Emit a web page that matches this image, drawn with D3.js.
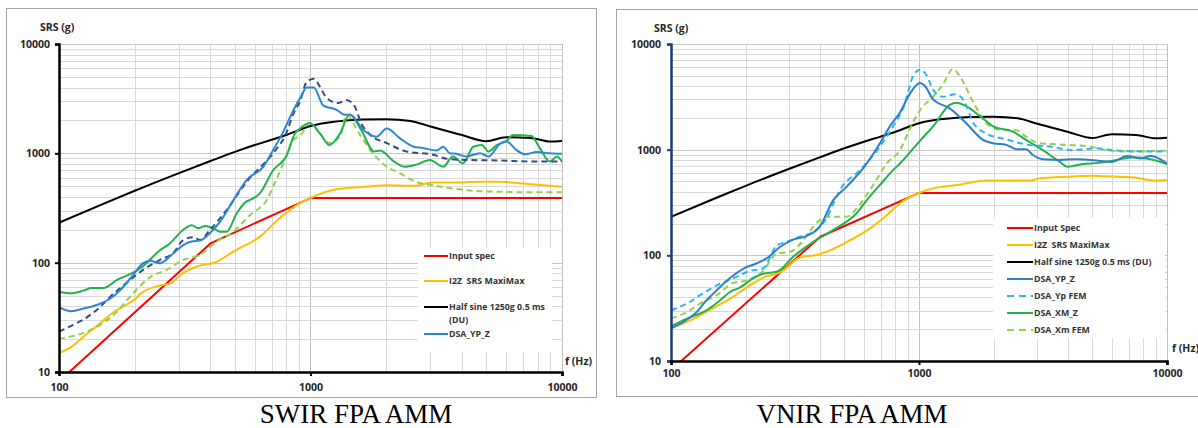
<!DOCTYPE html>
<html>
<head>
<meta charset="utf-8">
<script src="https://cdn.jsdelivr.net/npm/d3@7"></script>
<style>
  body { margin: 0; background: #fff; }
  text { font-family: "Open Sans", "Liberation Sans", sans-serif; white-space: pre; }
</style>
</head>
<body>
<svg id="chart" width="1198" height="428"></svg>
<script>
// tick labels
var xTicks = [100, 1000, 10000];
var yTicks = [10, 100, 1000, 10000];

// ---- SWIR FPA AMM (left) ----
var swirInputSpec = [[100, 8.2], [400, 150], [1000, 390], [10000, 390]];
var swirMaxiMax = [[100, 15], [112, 17], [125, 21], [146, 28], [164, 35], [197, 45], [216, 54], [252, 62], [280, 65], [303, 77], [352, 92], [424, 102], [493, 126], [629, 173], [757, 257], [909, 350], [1000, 390], [1060, 415], [1230, 463], [1670, 495], [2010, 510], [2570, 505], [3080, 540], [3590, 540], [4880, 550], [5680, 550], [6620, 535], [10000, 495]];
var halfSine = [[100, 232], [150, 345], [200, 455], [300, 660], [400, 850], [500, 1030], [600, 1190], [700, 1330], [800, 1470], [1000, 1780], [1250, 1950], [1600, 2040], [2000, 2050], [2500, 1980], [3000, 1760], [4000, 1470], [5000, 1290], [6000, 1400], [7500, 1380], [9000, 1280], [10000, 1300]];
var swirYpZ = [[100, 39], [112, 36], [125, 38], [141, 41], [160, 47], [175, 56], [197, 77], [216, 99], [230, 104], [252, 99], [285, 122], [312, 145], [337, 156], [364, 159], [398, 186], [437, 237], [494, 374], [557, 570], [650, 755], [710, 1070], [780, 1580], [855, 2480], [909, 3200], [967, 4000], [1030, 4000], [1125, 2730], [1270, 2500], [1370, 2250], [1440, 2250], [1620, 1640], [1830, 1420], [2010, 1690], [2270, 1370], [2570, 1150], [2800, 1120], [3170, 1060], [3370, 1150], [3580, 1000], [3800, 990], [4170, 935], [4440, 970], [4720, 1000], [5100, 935], [5680, 1230], [6000, 1290], [6600, 1070], [7130, 980], [7950, 1030], [8950, 1000], [10000, 990]];
var swirYpFem = [[100, 23.4], [114, 27], [129, 31.6], [146, 39.6], [160, 48.9], [186, 65.6], [216, 86], [252, 106], [285, 123], [312, 161], [342, 171], [364, 161], [398, 199], [464, 303], [565, 570], [610, 690], [710, 1000], [801, 1530], [855, 2300], [909, 3000], [967, 4520], [1030, 4800], [1090, 4070], [1160, 3200], [1290, 2880], [1390, 3080], [1500, 2680], [1590, 1890], [1730, 1470], [2010, 1240], [2410, 1040], [3080, 970], [3490, 890], [4170, 870], [5680, 860], [7660, 840], [10000, 840]];
var swirXmZ = [[100, 54], [112, 52.5], [125, 55.5], [135, 58.5], [150, 58.5], [170, 69.5], [197, 81], [216, 93], [252, 130], [276, 150], [312, 200], [337, 220], [358, 206], [381, 216], [411, 206], [437, 192], [464, 192], [509, 283], [557, 364], [575, 375], [629, 430], [710, 700], [801, 940], [867, 1520], [909, 1690], [994, 1890], [1090, 1520], [1190, 1190], [1310, 1520], [1430, 2270], [1590, 1640], [1790, 1040], [1890, 1060], [2150, 840], [2370, 755], [2620, 785], [2980, 870], [3370, 755], [3680, 935], [4040, 810], [4440, 1150], [4800, 1190], [5100, 1040], [5500, 1190], [6000, 1290], [6390, 1470], [7560, 1440], [8150, 1120], [8950, 840], [9540, 935], [10000, 840]];
var swirXmFem = [[100, 20], [114, 21.4], [129, 23.4], [146, 27], [170, 35.6], [197, 52.5], [230, 73.5], [268, 86], [312, 106], [364, 118], [424, 156], [494, 192], [575, 273], [670, 375], [730, 570], [801, 935], [855, 1330], [909, 1450], [994, 1890], [1090, 1520], [1190, 1240], [1310, 1420], [1390, 2250], [1560, 1520], [1770, 1000], [2010, 755], [2270, 655], [2620, 550], [3080, 510], [3580, 480], [4440, 455], [5680, 445], [7670, 440], [10000, 440]];

// ---- VNIR FPA AMM (right) ----
var vnirInputSpec = [[100, 8.2], [400, 150], [1000, 390], [10000, 390]];
var vnirMaxiMax = [[100, 21], [112, 22.6], [131, 27.1], [153, 33], [178, 40.5], [208, 52], [243, 63.5], [275, 68.5], [331, 95.5], [387, 101], [424, 108], [527, 139], [635, 180], [741, 240], [838, 310], [1010, 393], [1140, 430], [1420, 463], [1870, 510], [2800, 510], [3060, 535], [3950, 555], [5050, 565], [5690, 560], [7330, 545], [9100, 510], [10000, 515]];
var vnirYpZ = [[100, 20.3], [112, 23.4], [127, 29.1], [139, 37.6], [153, 46.8], [173, 61], [196, 75], [221, 83.7], [243, 93.5], [275, 120], [311, 141], [351, 152], [398, 187], [451, 333], [510, 445], [595, 665], [696, 1150], [763, 1660], [838, 2250], [922, 3430], [1010, 4270], [1060, 3960], [1140, 2990], [1330, 2460], [1550, 1780], [1810, 1240], [1990, 1150], [2250, 1110], [2470, 1010], [2700, 1010], [2880, 890], [3160, 810], [3690, 800], [4300, 810], [5300, 785], [6000, 765], [6900, 870], [7830, 825], [8600, 870], [10000, 740]];
var vnirYpFem = [[100, 30.2], [116, 35], [131, 42], [153, 52], [178, 60.5], [208, 71], [235, 75], [267, 124], [293, 134], [331, 150], [375, 167], [424, 225], [458, 333], [480, 414], [578, 640], [696, 1070], [786, 1660], [868, 2560], [952, 5110], [1010, 5700], [1070, 5110], [1140, 3700], [1250, 3170], [1400, 3340], [1510, 2960], [1660, 1780], [1870, 1420], [2250, 1250], [2700, 1120], [3370, 1070], [4160, 990], [4710, 1010], [5200, 1030], [6260, 980], [8600, 960], [10000, 960]];
var vnirXmZ = [[100, 21.3], [116, 25.2], [139, 30.2], [158, 37.6], [173, 45], [190, 49.7], [214, 60.5], [235, 67], [267, 69.8], [311, 97], [375, 134], [451, 174], [560, 250], [616, 333], [696, 464], [786, 640], [838, 740], [889, 860], [1010, 1220], [1140, 1660], [1330, 2650], [1420, 2780], [1550, 2580], [1770, 2060], [1990, 1660], [2390, 1480], [2700, 1240], [3160, 990], [3690, 770], [3980, 690], [4590, 730], [5300, 750], [6260, 800], [7330, 850], [8600, 810], [10000, 730]];
var vnirXmFem = [[100, 25.2], [116, 29.1], [131, 35], [153, 42], [178, 54.9], [202, 58], [235, 71], [267, 104], [302, 108], [342, 139], [375, 187], [424, 232], [510, 232], [568, 288], [595, 333], [674, 520], [741, 740], [838, 990], [922, 1600], [1010, 2370], [1140, 3170], [1250, 4150], [1370, 5800], [1460, 4950], [1660, 2770], [1870, 1780], [2110, 1550], [2470, 1530], [2700, 1330], [3060, 1150], [3950, 1110], [4890, 1070], [5690, 990], [7330, 960], [10000, 980]];

var svg = d3.select("#chart");

function drawPanel(cfg) {
  var x = d3.scaleLog().domain([100, 10000]).range([cfg.x0, cfg.x1]);
  var y = d3.scaleLog().domain([10, 10000]).range([cfg.y1, cfg.y0]);
  var g = svg.append("g");

  // outer frame
  g.append("rect")
    .attr("x", cfg.frame[0] + 0.5).attr("y", cfg.frame[1] + 0.5)
    .attr("width", cfg.frame[2]).attr("height", cfg.frame[3])
    .attr("fill", "none").attr("stroke", "#a6a6a6");

  // log grid
  var minor = [];
  [10, 100, 1000].forEach(function(d) {
    for (var k = 1; k <= 9; k++) minor.push(k * d);
  });
  minor.push(10000);
  var xGrid = minor.filter(function(v) { return v >= 100; });
  g.selectAll(".vg").data(xGrid).enter().append("line")
    .attr("x1", function(d) { return Math.round(x(d)) + 0.5; })
    .attr("x2", function(d) { return Math.round(x(d)) + 0.5; })
    .attr("y1", cfg.y0).attr("y2", cfg.y1)
    .attr("stroke", function(d) { return xTicks.indexOf(d) >= 0 ? "#bfbfbf" : "#d9d9d9"; })
    .attr("stroke-width", 1);
  g.selectAll(".hg").data(minor).enter().append("line")
    .attr("y1", function(d) { return Math.round(y(d)) + 0.5; })
    .attr("y2", function(d) { return Math.round(y(d)) + 0.5; })
    .attr("x1", cfg.x0).attr("x2", cfg.x1)
    .attr("stroke", function(d) { return yTicks.indexOf(d) >= 0 ? "#c8c8c8" : "#d9d9d9"; })
    .attr("stroke-width", 1);

  // legend box hides grid behind it
  var lg = cfg.legend;
  g.append("rect")
    .attr("x", lg.x).attr("y", lg.y).attr("width", lg.w).attr("height", lg.h)
    .attr("fill", "#fff");

  // clip
  var clipId = "clip" + cfg.id;
  g.append("clipPath").attr("id", clipId).append("rect")
    .attr("x", cfg.x0).attr("y", cfg.y0)
    .attr("width", cfg.x1 - cfg.x0).attr("height", cfg.y1 - cfg.y0);

  var lines = g.append("g").attr("clip-path", "url(#" + clipId + ")");
  cfg.series.forEach(function(s) {
    // spec lines are straight segments, measured curves are smoothed
    var line = d3.line()
      .x(function(d) { return x(d[0]); })
      .y(function(d) { return y(d[1]); })
      .curve(s.straight ? d3.curveLinear : d3.curveMonotoneX);
    lines.append("path")
      .datum(s.data)
      .attr("d", line)
      .attr("fill", "none")
      .attr("stroke", s.color)
      .attr("stroke-width", s.width || 2)
      .attr("stroke-dasharray", s.dash ? "6,4" : null)
      .attr("stroke-linejoin", "round");
  });

  // axes
  var yAxis = g.append("g")
    .attr("transform", "translate(" + cfg.x0 + ",0)")
    .call(d3.axisLeft(y).tickValues(yTicks).tickSize(4).tickFormat(d3.format("d")));
  yAxis.select(".domain").attr("stroke", cfg.yColor).attr("stroke-width", 2.5);
  yAxis.selectAll(".tick line").attr("stroke", cfg.yColor).attr("stroke-width", 2);
  yAxis.selectAll(".tick text")
    .attr("x", cfg.yLabelDx)
    .style("font-size", "10.5px").style("font-weight", "700").attr("fill", "#262626");

  var xAxis = g.append("g")
    .attr("transform", "translate(0," + cfg.y1 + ")")
    .call(d3.axisBottom(x).tickValues(xTicks).tickSize(4).tickFormat(d3.format("d")));
  xAxis.select(".domain").attr("stroke", "#000").attr("stroke-width", 2.5);
  xAxis.selectAll(".tick line").attr("stroke", "#000").attr("stroke-width", 2);
  xAxis.selectAll(".tick text")
    .attr("y", cfg.xLabelDy)
    .style("font-size", "10.5px").style("font-weight", "700").attr("fill", "#262626");

  // axis titles
  g.append("text").attr("x", cfg.srsPos[0]).attr("y", cfg.srsPos[1])
    .text("SRS (g)").style("font-size", "10.5px").style("font-weight", "700").attr("fill", "#262626");
  g.append("text").attr("x", cfg.fPos[0]).attr("y", cfg.fPos[1])
    .text("f (Hz)").style("font-size", "10.5px").style("font-weight", "700").attr("fill", "#262626");

  // legend entries
  var rows = g.selectAll(".lrow").data(lg.items).enter().append("g")
    .attr("transform", function(d, i) { return "translate(" + lg.lineX + "," + lg.rows[i] + ")"; });
  rows.append("line")
    .attr("x1", 0).attr("x2", lg.lineW).attr("y1", 0).attr("y2", 0)
    .attr("stroke", function(d) { return d.color; })
    .attr("stroke-width", 2)
    .attr("stroke-dasharray", function(d) { return d.dash ? "7,5" : null; });
  rows.append("text")
    .attr("x", lg.lineW + 1).attr("y", 3.2)
    .style("font-size", "8.8px").style("font-weight", "700").attr("fill", "#333")
    .each(function(d) {
      var t = d3.select(this);
      d.label.split("\n").forEach(function(part, j) {
        t.append("tspan").attr("x", lg.lineW + 1).attr("dy", j === 0 ? 0 : 13).text(part);
      });
    });

  // caption
  svg.append("text")
    .attr("x", cfg.caption[1]).attr("y", 423)
    .attr("text-anchor", "middle")
    .style("font-family", "'Liberation Serif', 'Times New Roman', serif")
    .style("font-size", "27px")
    .attr("fill", "#000")
    .text(cfg.caption[0]);
}

drawPanel({
  id: "L",
  frame: [6, 8, 590, 389],
  x0: 59, x1: 562, y0: 44, y1: 372,
  yColor: "#000",
  yLabelDx: -9, xLabelDy: 12,
  srsPos: [40, 31], fPos: [565, 365],
  caption: ["SWIR FPA AMM", 356],
  series: [
    { data: swirInputSpec, color: "#ff0000", straight: true },
    { data: swirMaxiMax, color: "#ffc000" },
    { data: halfSine, color: "#000000" },
    { data: swirXmFem, color: "#92d050", dash: true },
    { data: swirXmZ, color: "#22b14c" },
    { data: swirYpFem, color: "#2f4d8a", dash: true },
    { data: swirYpZ, color: "#2e86d1" }
  ],
  legend: {
    x: 418, y: 248, w: 134, h: 104, lineX: 424, lineW: 24,
    rows: [256, 281, 307, 334],
    items: [
      { label: "Input spec", color: "#ff0000" },
      { label: "I2Z  SRS MaxiMax", color: "#ffc000" },
      { label: "Half sine 1250g 0.5 ms\n(DU)", color: "#000000" },
      { label: "DSA_YP_Z", color: "#2e86d1" }
    ]
  }
});

drawPanel({
  id: "R",
  frame: [616, 9, 600, 387],
  x0: 671, x1: 1167, y0: 44, y1: 361,
  yColor: "#1f3a78",
  yLabelDx: -10, xLabelDy: 9,
  srsPos: [654, 32], fPos: [1172, 352],
  caption: ["VNIR FPA AMM", 852],
  series: [
    { data: vnirInputSpec, color: "#ff0000", straight: true },
    { data: vnirMaxiMax, color: "#ffc000" },
    { data: halfSine, color: "#000000" },
    { data: vnirXmFem, color: "#92d050", dash: true },
    { data: vnirXmZ, color: "#22b14c" },
    { data: vnirYpFem, color: "#29b6f0", dash: true },
    { data: vnirYpZ, color: "#2e80c8" }
  ],
  legend: {
    x: 993, y: 218, w: 172, h: 120, lineX: 1007, lineW: 26,
    rows: [228, 245, 262, 279, 296, 313, 330],
    items: [
      { label: "Input Spec", color: "#ff0000" },
      { label: "I2Z  SRS MaxiMax", color: "#ffc000" },
      { label: "Half sine 1250g 0.5 ms (DU)", color: "#000000" },
      { label: "DSA_YP_Z", color: "#2e80c8" },
      { label: "DSA_Yp FEM", color: "#29b6f0", dash: true },
      { label: "DSA_XM_Z", color: "#22b14c" },
      { label: "DSA_Xm FEM", color: "#92d050", dash: true }
    ]
  }
});
</script>
</body>
</html>
